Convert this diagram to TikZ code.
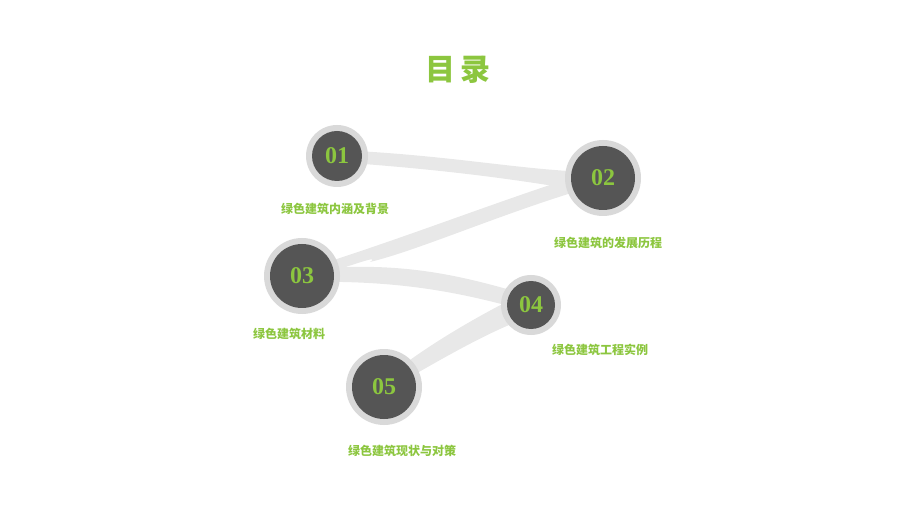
\documentclass[tikz,border=0pt]{standalone}
\usepackage{fontspec}
\setmainfont{Liberation Serif}
\newfontfamily\cjk{Noto Sans CJK SC}
\definecolor{gr}{HTML}{8CC63F}
\definecolor{dk}{HTML}{555555}
\definecolor{rg}{HTML}{D9D9D9}
\definecolor{rb}{HTML}{E8E8E8}
\tikzset{
 lab/.style={font=\cjk\bfseries\fontsize{12}{14}\selectfont, text=gr},
 num/.style={font=\bfseries\fontsize{24}{26}\selectfont, text=gr},
}
\begin{document}
\begin{tikzpicture}[x=1pt,y=-1pt]
\useasboundingbox (0,0) rectangle (920,518);
% ribbons
\fill[rb] (337,150) .. controls (450,155) and (520,170) .. (590,172) -- (590,192) .. controls (520,180) and (450,170) .. (337,162) -- cycle;
\fill[rb] (590,172) .. controls (500,200) and (400,240) .. (302,270) -- (302,282) .. controls (360,262) and (380,255) .. (370,262) .. controls (420,250) and (510,210) .. (595,186) -- cycle;
\fill[rb] (302,270) .. controls (400,260) and (460,275) .. (531,296) -- (531,312) .. controls (460,292) and (400,280) .. (302,282) -- cycle;
\fill[rb] (520,295) .. controls (470,320) and (420,350) .. (384,380) -- (384,392) .. controls (440,360) and (490,330) .. (535,315) -- cycle;
% circles
\foreach \n/\x/\y/\r in {01/337/156/31, 02/603/178/38, 03/302/276/38, 04/531/305/30, 05/384/387/38}{
 \fill[rg] (\x,\y) circle (\r);
 \fill[dk] (\x,\y) circle ({\r-6});
 \node[num] (c\n) at (\x,\y) {\n};
}
\node[font=\cjk\bfseries\fontsize{30}{32}\selectfont, text=gr] (t) at (458,70) {目\,录};
\node[lab] (l1) at (335,209) {绿色建筑内涵及背景};
\node[lab] (l2) at (608,243) {绿色建筑的发展历程};
\node[lab] (l3) at (289,334) {绿色建筑材料};
\node[lab] (l4) at (600,350) {绿色建筑工程实例};
\node[lab] (l5) at (402,451) {绿色建筑现状与对策};
\end{tikzpicture}
\end{document}
